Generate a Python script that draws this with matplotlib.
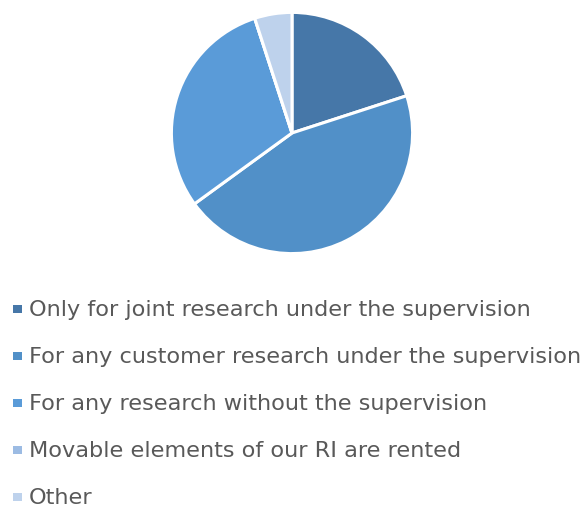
import matplotlib
matplotlib.use("Agg")
import matplotlib.pyplot as plt
from matplotlib.patches import Rectangle

categories = [
    "Only for joint research under the supervision",
    "For any customer research under the supervision",
    "For any research without the supervision",
    "Movable elements of our RI are rented",
    "Other",
]
counts = [4, 9, 6, 0, 1]
colors = ["#4677A8", "#5190C8", "#5A9BD8", "#9CBBE3", "#BED2EC"]

plt.rcParams["font.family"] = ["DejaVu Sans"]

W, H = 584, 511
fig = plt.figure(figsize=(W / 100, H / 100), dpi=100)
fig.patch.set_facecolor("white")

cx, cy, r = 292, 133, 121
ax = fig.add_axes([(cx - r - 2) / W, 1 - (cy + r + 2) / H, (2 * r + 4) / W, (2 * r + 4) / H])
wedges, _ = ax.pie(
    counts,
    colors=colors,
    startangle=90,
    counterclock=False,
    radius=1.0,
    wedgeprops=dict(edgecolor="white", linewidth=2.2),
)
ax.set_xlim(-1.02, 1.02)
ax.set_ylim(-1.02, 1.02)
ax.set_aspect("equal")
ax.axis("off")

# legend rows laid out in figure pixels (top-left origin)
def fx(px):
    return px / W

def fy(py):
    return 1 - py / H

row0, step = 316, 47
for i, (label, col) in enumerate(zip(categories, colors)):
    base = row0 + step * i
    fig.patches.append(Rectangle((fx(12.5), fy(base - 3)), 9 / W, 8 / H,
                                 transform=fig.transFigure, facecolor=col,
                                 edgecolor="none"))
    fig.text(fx(29), fy(base), label, fontsize=16.1, color="#595959",
             ha="left", va="baseline")

fig.savefig("out.png", dpi=100)
